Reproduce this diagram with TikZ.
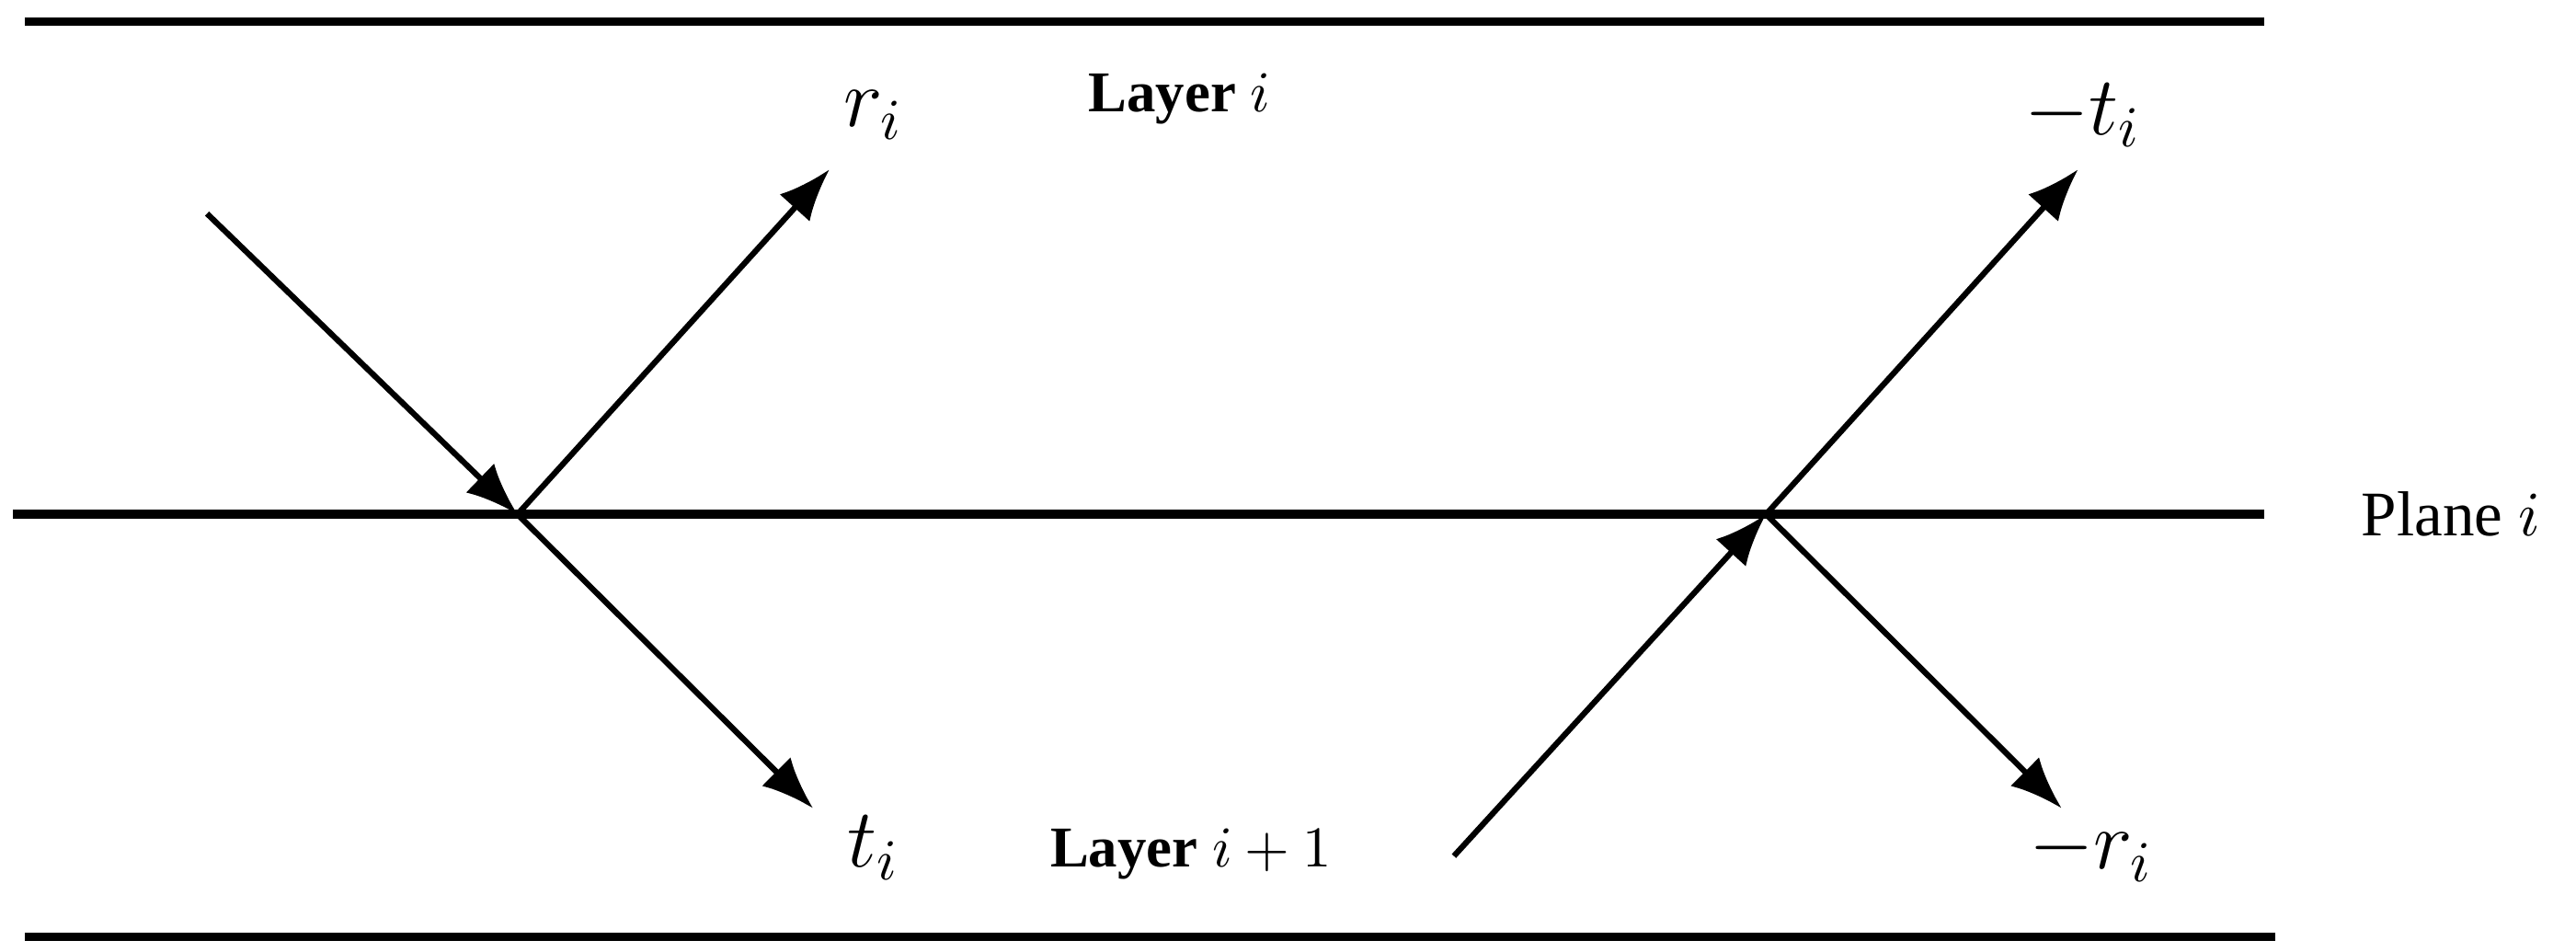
\documentclass[tikz,border=0pt]{standalone}
\usepackage{fontspec}
\setmainfont{Liberation Serif}
\usetikzlibrary{arrows.meta}
\begin{document}
\begin{tikzpicture}[x=0.01cm,y=-0.01cm,
  plane/.style={line width=1.5pt},
  ray/.style={line width=1pt,-{Latex[length=9pt,width=7pt]}},
  mlab/.style={font=\fontsize{14}{16}\selectfont},
  tlab/.style={font=\fontsize{10}{12}\selectfont\bfseries},
  plab/.style={font=\fontsize{11}{13}\selectfont}]
\useasboundingbox (0,0) rectangle (1568,579);
\draw[plane] (15,13) -- (1378,13);
\draw[plane] (8,313) -- (1378,313);
\draw[plane] (15,570) -- (1385,570);
\coordinate (a) at (126,130);
\coordinate (p) at (315,313);
\coordinate (r) at (505,103);
\coordinate (t) at (495,492);
\coordinate (b) at (885,521);
\coordinate (q) at (1075,313);
\coordinate (mt) at (1265,103);
\coordinate (mr) at (1255,492);
\draw[ray] (a) -- (p);
\draw[ray] (p) -- (r);
\draw[ray] (p) -- (t);
\draw[ray] (b) -- (q);
\draw[ray] (q) -- (mt);
\draw[ray] (q) -- (mr);
\node[mlab] (lr) at (532,70) {$r_i$};
\node[mlab] (lt) at (532,516) {$t_i$};
\node[mlab] (lmt) at (1268,70) {$-t_i$};
\node[mlab] (lmr) at (1273,518) {$-r_i$};
\node[tlab] (l1) at (718,60) {Layer $i$};
\node[tlab] (l2) at (725,520) {Layer $i+1$};
\node[plab] (pl) at (1492,313) {Plane $i$};
\end{tikzpicture}
\end{document}
